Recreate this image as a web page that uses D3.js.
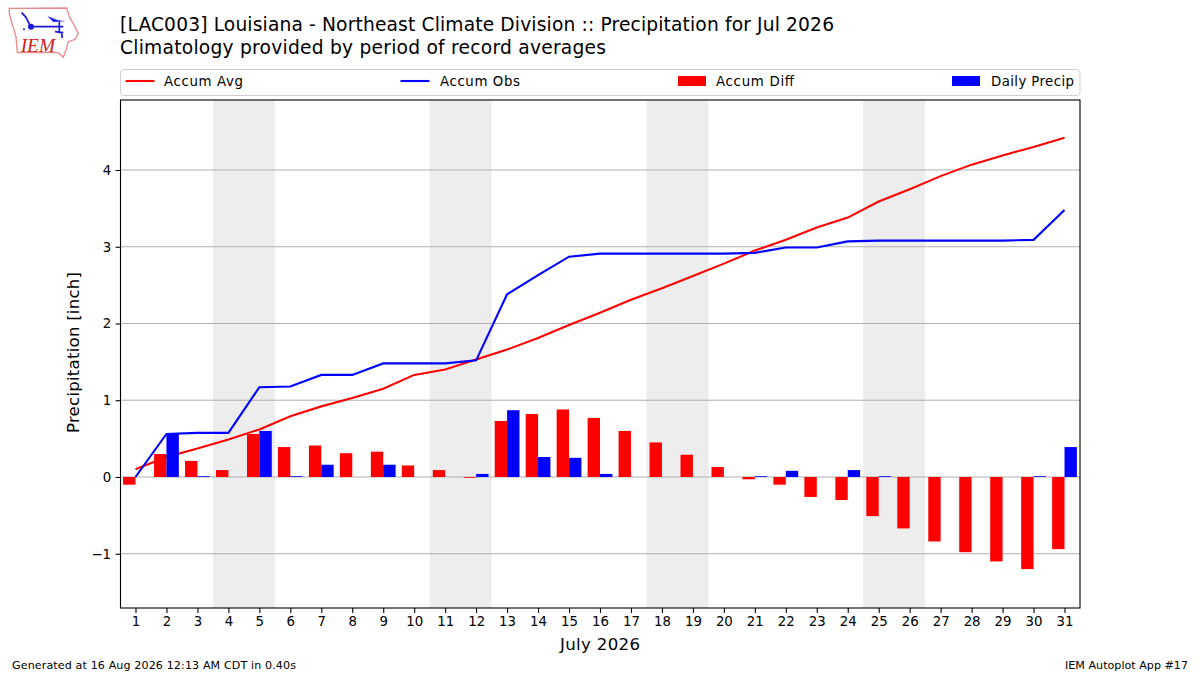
<!DOCTYPE html>
<html>
<head>
  <meta charset="UTF-8">
  <title>Louisiana - Northeast Climate Division Precipitation</title>
  <style>
    html, body { margin: 0; padding: 0; background: #ffffff; }
    svg { display: block; }
    text { font-family: "DejaVu Sans", sans-serif; fill: #000000; }
  </style>
</head>
<body>
<svg></svg>
<script src="https://d3js.org/d3.v7.min.js"></script>
<script>

// values
let days = d3.range(1, 32);
let accumAvg = [0.10, 0.26, 0.37, 0.49, 0.62, 0.79, 0.92, 1.03, 1.15, 1.33, 1.40, 1.53, 1.66, 1.81, 1.98, 2.14,
                2.31, 2.46, 2.62, 2.78, 2.95, 3.09, 3.25, 3.38, 3.59, 3.75, 3.92, 4.07, 4.19, 4.30, 4.42];
let accumObs = [0.00, 0.56, 0.575, 0.575, 1.17, 1.18, 1.33, 1.33, 1.48, 1.48, 1.48, 1.52, 2.38, 2.63, 2.87, 2.91,
                2.91, 2.91, 2.91, 2.91, 2.92, 2.99, 2.99, 3.07, 3.08, 3.08, 3.08, 3.08, 3.08, 3.09, 3.48];
let accumDiff = [-0.10, 0.30, 0.21, 0.09, 0.56, 0.39, 0.41, 0.31, 0.33, 0.15, 0.09, -0.01, 0.73, 0.82, 0.88, 0.77,
                 0.60, 0.45, 0.29, 0.13, -0.03, -0.10, -0.26, -0.30, -0.51, -0.67, -0.84, -0.98, -1.10, -1.20, -0.94];
let dailyPrecip = [0, 0.57, 0.01, 0, 0.60, 0.01, 0.16, 0, 0.16, 0, 0, 0.04, 0.87, 0.26, 0.25, 0.04,
                   0, 0, 0, 0, 0.01, 0.08, 0, 0.09, 0.01, 0, 0, 0, 0, 0.01, 0.39];
let weekends = [[3.5, 5.5], [10.5, 12.5], [17.5, 19.5], [24.5, 26.5]];
let yTicks = [-1, 0, 1, 2, 3, 4];

let width = 1200, height = 675;
let left = 120.5, right = 1080, top_ = 100, bottom = 608;

let svg = d3.select("svg").attr("width", width).attr("height", height);

let x = d3.scaleLinear().domain([0.516, 31.5]).range([left, right]);
let y = d3.scaleLinear().domain([-1.707, 4.912]).range([bottom, top_]);
let barW = x(1.4) - x(1);

// weekend shading
svg.append("g").selectAll("rect")
    .data(weekends)
    .enter()
    .append("rect")
        .attr("x", d => x(d[0]))
        .attr("width", d => x(d[1]) - x(d[0]))
        .attr("y", top_)
        .attr("height", bottom - top_)
        .attr("fill", "#ededed");

// grid lines
svg.append("g").selectAll("line")
    .data(yTicks)
    .enter()
    .append("line")
        .attr("x1", left)
        .attr("x2", right)
        .attr("y1", d => y(d))
        .attr("y2", d => y(d))
        .attr("stroke", "#b0b0b0")
        .attr("stroke-width", 1);

let line = d3.line().x((d, i) => x(days[i])).y(d => y(d));

svg.append("path")
    .attr("d", line(accumAvg))
    .attr("fill", "none")
    .attr("stroke", "#ff0000")
    .attr("stroke-width", 2.1);

svg.append("path")
    .attr("d", line(accumObs))
    .attr("fill", "none")
    .attr("stroke", "#0000ff")
    .attr("stroke-width", 2.1);

// bars sit on top of the lines
svg.append("g").selectAll("rect")
    .data(accumDiff)
    .enter()
    .append("rect")
        .attr("x", (d, i) => x(days[i]) - barW)
        .attr("width", barW)
        .attr("y", d => Math.min(y(d), y(0)))
        .attr("height", d => Math.abs(y(d) - y(0)))
        .attr("fill", "#ff0000");

svg.append("g").selectAll("rect")
    .data(dailyPrecip)
    .enter()
    .append("rect")
        .attr("x", (d, i) => x(days[i]))
        .attr("width", barW)
        .attr("y", d => y(d))
        .attr("height", d => y(0) - y(d))
        .attr("fill", "#0000ff");

// axes
let xAxis = svg.append("g")
    .attr("transform", "translate(0," + bottom + ")")
    .call(d3.axisBottom(x).tickValues(days).tickFormat(d3.format("d")).tickSize(4.9).tickPadding(4).tickSizeOuter(0));
let yAxis = svg.append("g")
    .attr("transform", "translate(" + left + ",0)")
    .call(d3.axisLeft(y).tickValues(yTicks).tickFormat(d => d < 0 ? "\u2212" + (-d) : d).tickSize(4.9).tickPadding(4.5).tickSizeOuter(0));
[xAxis, yAxis].forEach(a => {
  a.select(".domain").remove();
  a.selectAll("text").style("font-size", "13.33px").style("font-family", '"DejaVu Sans", sans-serif');
  a.selectAll("line").attr("stroke", "#000").attr("stroke-width", 1.1);
});

svg.append("rect")
    .attr("x", left)
    .attr("y", top_)
    .attr("width", right - left)
    .attr("height", bottom - top_)
    .attr("fill", "none")
    .attr("stroke", "#000")
    .attr("stroke-width", 1.1);

// text widths follow the reference, its glyph advances are a bit wider than the browser's
function label(tx, ty, size, len, str) {
  return svg.append("text")
      .attr("x", tx)
      .attr("y", ty)
      .attr("textLength", len)
      .attr("lengthAdjust", "spacing")
      .style("font-size", size + "px")
      .text(str);
}

label(120, 31, 18.67, 714, "[LAC003] Louisiana - Northeast Climate Division :: Precipitation for Jul 2026");
label(120, 54, 18.67, 486, "Climatology provided by period of record averages");
label(560, 650, 16.6, 80, "July 2026");
label(12, 669, 11.1, 284, "Generated at 16 Aug 2026 12:13 AM CDT in 0.40s");
label(1065, 669, 11.1, 123, "IEM Autoplot App #17");
label(0, 0, 16.6, 161, "Precipitation [inch]")
    .attr("transform", "translate(79,433) rotate(-90)");

// legend
svg.append("rect")
    .attr("x", 120.5).attr("y", 69.5)
    .attr("width", 959.5).attr("height", 26)
    .attr("rx", 3)
    .attr("fill", "#fff")
    .attr("stroke", "#d0d0d0");

let legendItems = [
  {label: "Accum Avg", kind: "line", color: "#ff0000", x0: 125.5, tx: 164, len: 79},
  {label: "Accum Obs", kind: "line", color: "#0000ff", x0: 400.5, tx: 440, len: 80},
  {label: "Accum Diff", kind: "patch", color: "#ff0000", x0: 678, tx: 716, len: 78},
  {label: "Daily Precip", kind: "patch", color: "#0000ff", x0: 952, tx: 991, len: 83}
];
legendItems.forEach(d => {
  if (d.kind === "line") {
    svg.append("line")
        .attr("x1", d.x0).attr("x2", d.x0 + 29)
        .attr("y1", 81).attr("y2", 81)
        .attr("stroke", d.color).attr("stroke-width", 2.1);
  } else {
    svg.append("rect")
        .attr("x", d.x0).attr("y", 76)
        .attr("width", 28).attr("height", 10)
        .attr("fill", d.color);
  }
  label(d.tx, 86, 13.33, d.len, d.label);
});

// IEM logo, drawn in the 3x coordinates of the zoomed crop
let logo = svg.append("g").attr("transform", "scale(0.3333)");
logo.append("path")
    .attr("d", "M28,25 L200,24 L208,50 L222,75 L235,100 L226,118 L205,125 L198,150 L190,172 L175,158 L52,158 L48,110 L36,70 L28,40 Z")
    .attr("fill", "#fff")
    .attr("stroke", "#e88a8a")
    .attr("stroke-width", 4);
logo.append("path")
    .attr("d", "M65,38 L78,52 L90,76 M93,80 L190,80 M178,65 L178,100 M165,95 L190,98 M185,100 L187,114")
    .attr("fill", "none")
    .attr("stroke", "#1a1ad8")
    .attr("stroke-width", 5);
logo.append("path")
    .attr("d", "M142,48 L172,60 L196,64 L160,66 Z")
    .attr("fill", "#1a1ad8");
logo.append("circle").attr("cx", 93).attr("cy", 80).attr("r", 9).attr("fill", "#1a1ad8");
logo.append("circle").attr("cx", 72).attr("cy", 88).attr("r", 3).attr("fill", "#1a1ad8");
logo.append("text")
    .attr("x", 62).attr("y", 155)
    .style("font-family", '"Liberation Serif", serif')
    .style("font-style", "italic")
    .style("font-size", "58px")
    .style("fill", "#d02020")
    .text("IEM");

</script>
</body>
</html>
